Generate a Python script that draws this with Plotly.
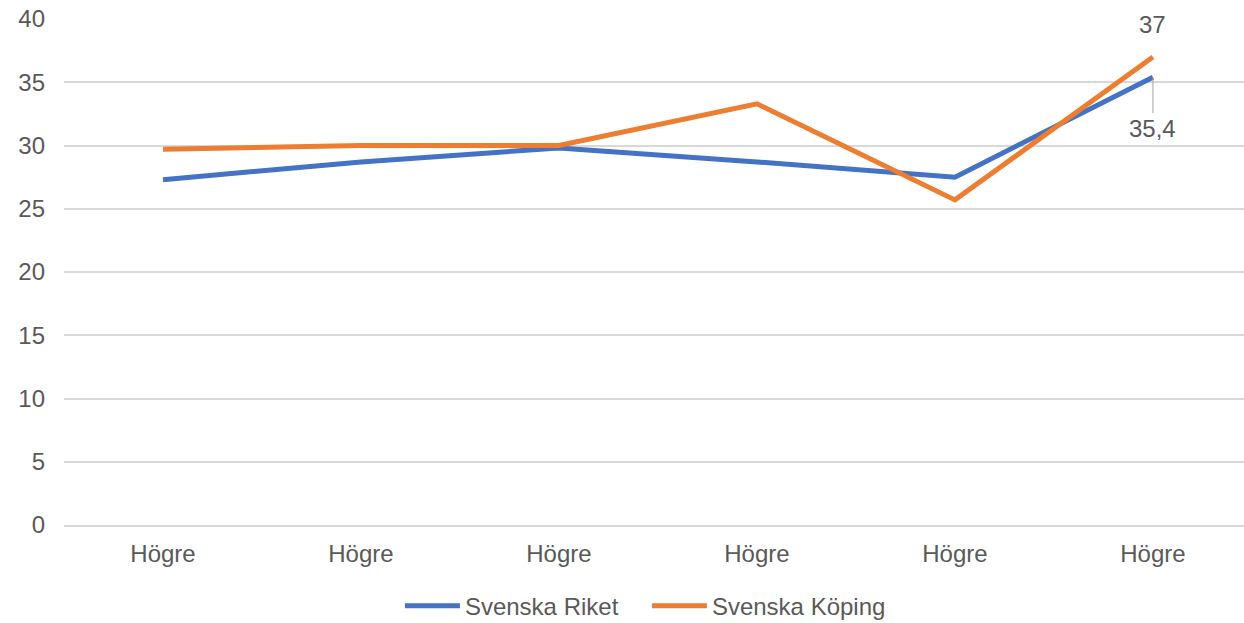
import plotly.graph_objects as go

categories = ["Högre", "Högre", "Högre", "Högre", "Högre", "Högre"]
riket = [27.3, 28.7, 29.8, 28.7, 27.5, 35.4]
koping = [29.7, 30.0, 30.0, 33.3, 25.7, 37]
y_ticks = [0, 5, 10, 15, 20, 25, 30, 35, 40]

x = list(range(len(categories)))
FONT = "Liberation Sans, Arial, sans-serif"
TXT = "#595959"
FS = 24

def fmt(v):
    s = ("%g" % v)
    return s.replace(".", ",")

fig = go.Figure()
fig.add_trace(go.Scatter(x=x, y=riket, mode="lines", name="Svenska Riket",
                         line=dict(color="#4472C4", width=5)))
fig.add_trace(go.Scatter(x=x, y=koping, mode="lines", name="Svenska Köping",
                         line=dict(color="#ED7D31", width=5)))

fig.add_annotation(x=x[-1], y=koping[-1], text=fmt(koping[-1]), showarrow=False,
                   yshift=32, font=dict(family=FONT, size=FS, color=TXT))
fig.add_annotation(x=x[-1], y=riket[-1], text=fmt(riket[-1]), showarrow=True,
                   ax=0, ay=51, arrowhead=0, arrowwidth=1, arrowcolor="#A6A6A6",
                   font=dict(family=FONT, size=FS, color=TXT))

fig.update_layout(
    width=1244, height=623,
    margin=dict(l=64, r=0, t=19, b=98),
    paper_bgcolor="white", plot_bgcolor="white",
    font=dict(family=FONT, size=FS, color=TXT),
    showlegend=True,
    legend=dict(orientation="h", x=0.494, xanchor="center", yref="container",
                y=0.027, yanchor="middle", font=dict(size=FS, color=TXT),
                itemwidth=55, entrywidth=177, tracegroupgap=0, bgcolor="rgba(0,0,0,0)"),
    separators=",.",
)
fig.update_xaxes(range=[-0.5, 5.46], tickmode="array", tickvals=x, ticktext=categories,
                 showgrid=False, zeroline=False, showline=True, linecolor="#D9D9D9",
                 linewidth=2, ticks="",
                 tickfont=dict(size=FS, color=TXT), ticklabelstandoff=6)
fig.update_yaxes(range=[0, 40], tickmode="array", tickvals=y_ticks,
                 showgrid=True, gridcolor="#D9D9D9", gridwidth=2, zeroline=False,
                 showline=False, ticks="", tickfont=dict(size=FS, color=TXT),
                 ticklabelstandoff=18)

fig.write_html("out.html", config={"displayModeBar": False},
               post_script="document.body.style.margin='0';document.body.style.overflow='hidden';")
